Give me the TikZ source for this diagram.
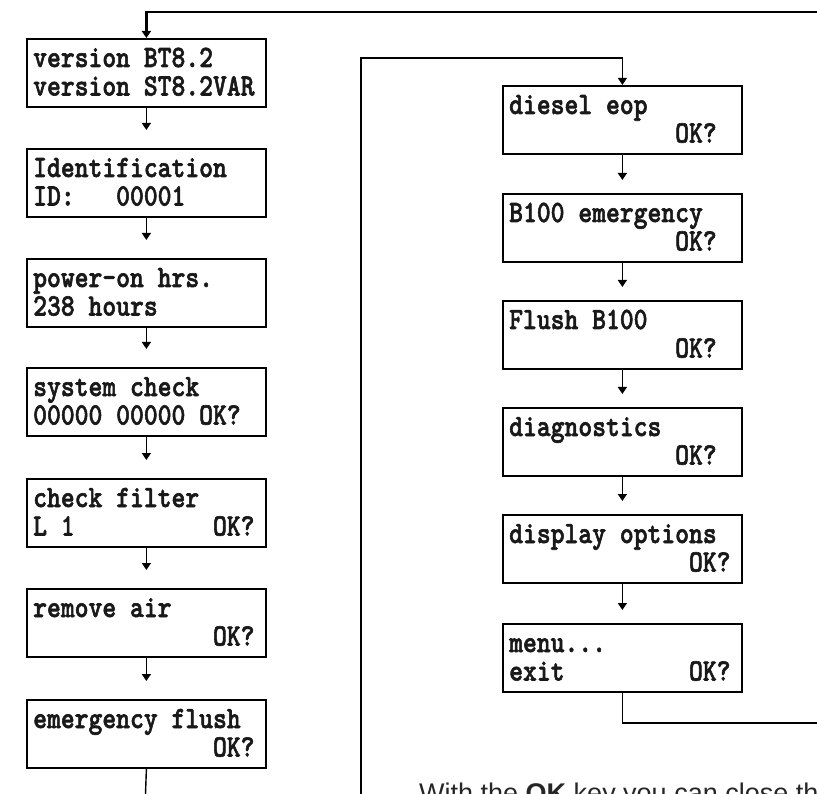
\documentclass[tikz,border=0pt]{standalone}
\usepackage{fontspec}
\usetikzlibrary{arrows.meta}
\newfontfamily\notefont{Liberation Sans}
\newfontfamily\lcdface{lmmonolt10-bold.otf}[FakeBold=2]

% two-line LCD display text: bold typewriter, narrowed
\newlength\lcdcol
\setlength\lcdcol{16.275pt}
\newcommand\lcdfont{\lcdface\fontsize{31}{31}\selectfont}
\newcommand\lcdrow[3]{\scalebox{0.85}[1]{\lcdfont\makebox[#3\lcdcol][l]{#1\hfill#2}}}

% \lcdbox{name}{left}{top}{line 1}{line 2 left}{line 2 right}{columns}
\newcommand\lcdbox[7]{%
  \node[lcd] (#1) at (#2,#3) {};
  \node[lcdtxt] (#1-1) at ([xshift=7pt,yshift=-29pt]#1.north west) {\lcdrow{#4}{}{#7}};
  \node[lcdtxt] (#1-2) at ([xshift=7pt,yshift=-57.5pt]#1.north west) {\lcdrow{#5}{#6}{#7}};
}

\begin{document}
\begin{tikzpicture}[x=1pt,y=-1pt,
  lcd/.style={draw, line width=1.8pt, minimum width=239pt, minimum height=68pt,
    inner sep=0pt, anchor=north west},
  lcdtxt/.style={inner sep=0pt, anchor=base west, text=black!90},
  conn/.style={line width=1.4pt},
  thinconn/.style={line width=1.1pt},
  tip/.style={-{Triangle[width=9pt,length=7pt]}},
  flow/.style={conn, tip},
  nextL/.style={flow, shorten >=18pt},
  nextR/.style={flow, shorten >=13pt}]
\useasboundingbox (0,0) rectangle (817,794);
\clip (0,0) rectangle (817,794);

% start-up sequence
\lcdbox{b1}{26}{38}{version BT8.2}{version ST8.2VAR}{}{16}
\lcdbox{b2}{26}{148}{Identification}{ID:\ \ \ 00001}{}{16}
\lcdbox{b3}{26}{258}{power-on hrs.}{238 hours}{}{16}
\lcdbox{b4}{26}{367}{system check}{00000 00000}{OK?}{15}
\lcdbox{b5}{26}{478}{check filter}{L 1}{OK?}{16}
\lcdbox{b6}{26}{588}{remove air}{}{OK?}{16}
\lcdbox{b7}{26}{699}{emergency flush}{}{OK?}{16}

% menu sequence
\lcdbox{r1}{502}{85}{diesel eop}{}{OK?}{15}
\lcdbox{r2}{502}{193}{B100 emergency}{}{OK?}{15}
\lcdbox{r3}{502}{300}{Flush B100}{}{OK?}{15}
\lcdbox{r4}{502}{407}{diagnostics}{}{OK?}{15}
\lcdbox{r5}{502}{514}{display options}{}{OK?}{16}
\lcdbox{r6}{502}{623}{menu...}{exit}{OK?}{16}

% loose ends of the loops
\coordinate (topin) at (817,12);
\coordinate (leftout) at (145.5,794);
\coordinate (rightin) at (361,794);
\coordinate (menuout) at (817,723);

% connectors
\draw[line width=2.2pt, tip] (topin) -| (b1.north);
\draw[nextL] (b1.south) -- (b2.north);
\draw[nextL] (b2.south) -- (b3.north);
\draw[nextL] (b3.south) -- (b4.north);
\draw[nextL] (b4.south) -- (b5.north);
\draw[nextL] (b5.south) -- (b6.north);
\draw[nextL] (b6.south) -- (b7.north);
\draw[conn] (b7.south) -- (leftout);

\draw[thinconn, tip] (rightin) |- ([yshift=27pt]r1.north) -- (r1.north);
\draw[nextR] (r1.south) -- (r2.north);
\draw[nextR] (r2.south) -- (r3.north);
\draw[nextR] (r3.south) -- (r4.north);
\draw[nextR] (r4.south) -- (r5.north);
\draw[nextR] (r5.south) -- (r6.north);
\draw[thinconn] (r6.south) |- (menuout);

% explanatory text below
\node[inner sep=0pt, anchor=base west, text=black!85] (note) at (419,802)
  {\notefont\fontsize{27}{32}\selectfont With the \textbf{OK} key you can close th};
\end{tikzpicture}
\end{document}
